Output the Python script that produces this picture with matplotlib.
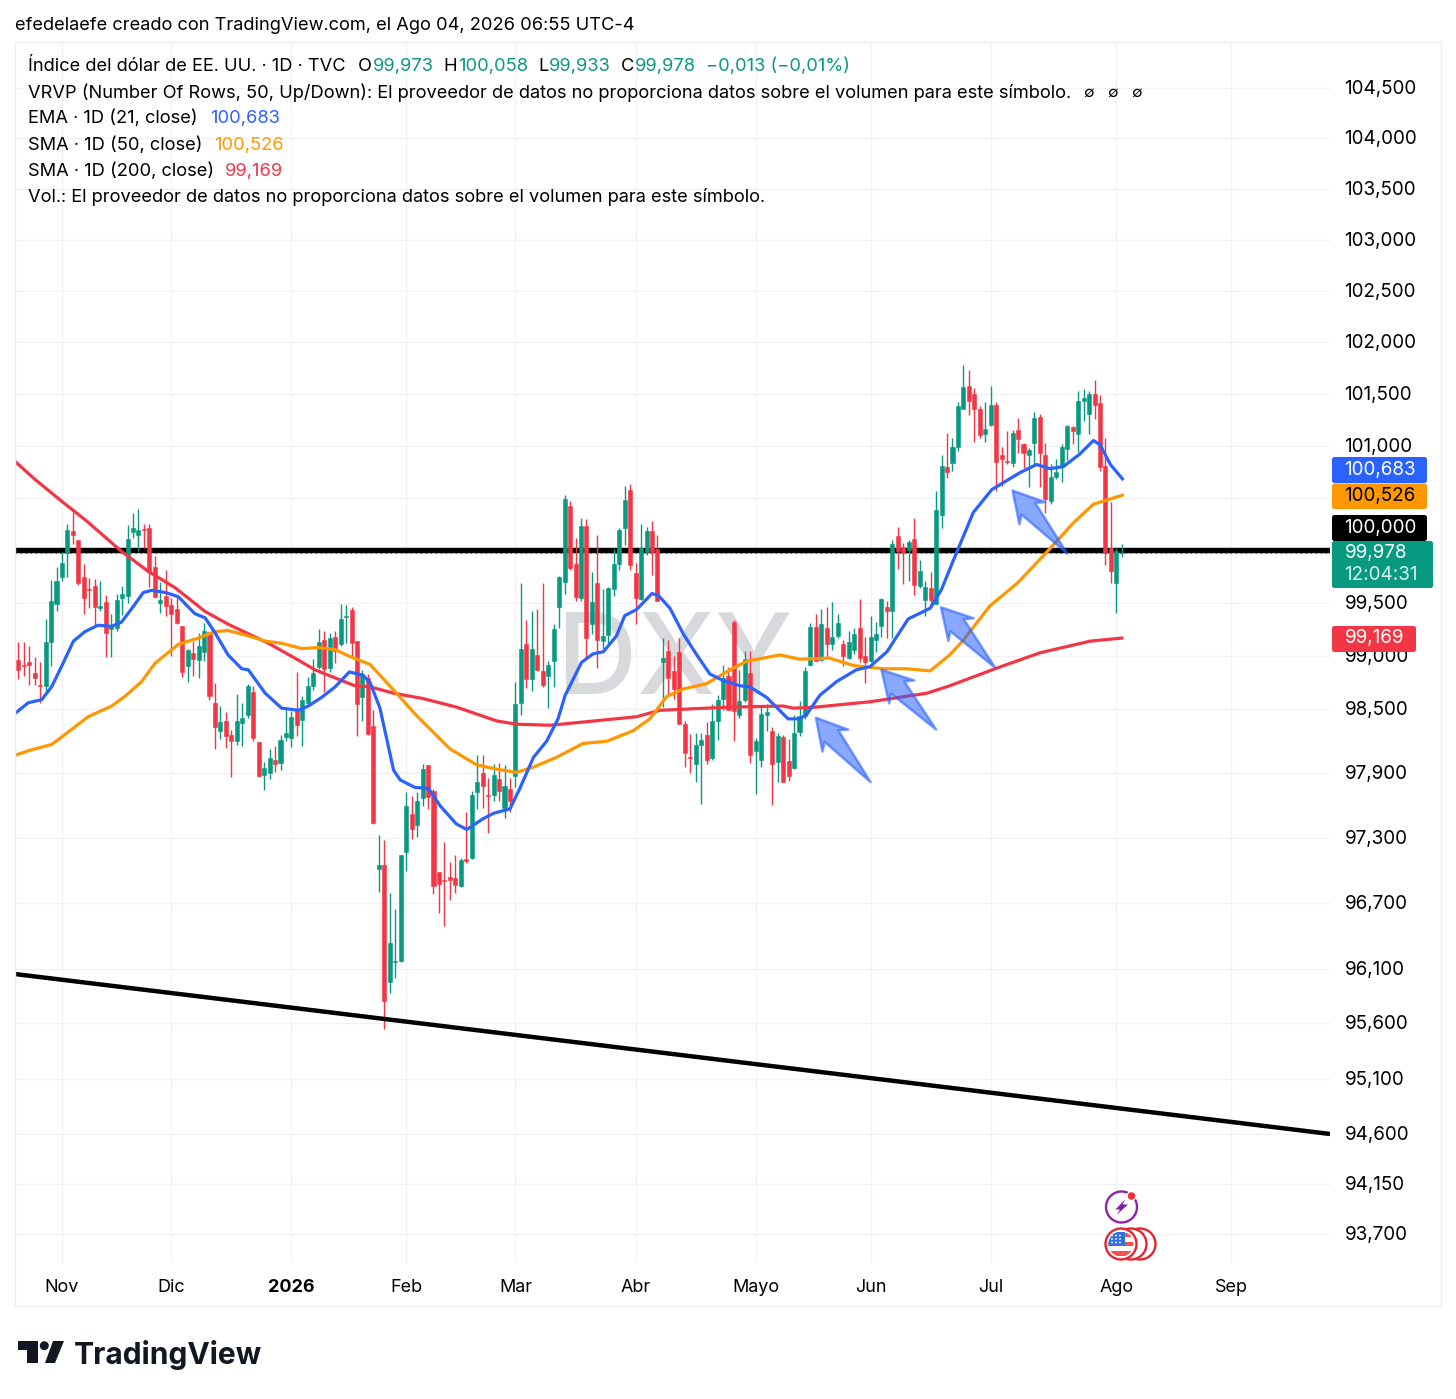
import math
import matplotlib
matplotlib.use("Agg")
import matplotlib.pyplot as plt
from matplotlib.patches import Polygon, Circle, Rectangle, FancyBboxPatch

opens = [
 98.96,98.92,98.94,98.84,98.73,98.72,99.13,99.49,99.75,99.97,
 100.18,100.10,99.75,99.63,99.66,99.45,99.51,99.25,99.26,99.55,
 99.57,100.17,100.15,100.20,100.21,99.84,99.50,99.57,99.48,99.44,
 99.28,98.91,99.03,98.96,99.04,99.23,98.56,98.30,98.39,98.26,
 98.20,98.37,98.45,98.66,98.19,97.89,97.90,98.03,98.00,98.24,
 98.23,98.48,98.40,98.56,98.72,98.90,99.15,98.89,99.18,99.11,
 99.37,99.43,99.14,98.61,98.79,98.34,97.01,97.05,95.98,96.16,
 96.17,97.17,97.52,97.42,97.67,97.98,97.74,96.99,96.91,96.94,
 96.93,96.86,97.11,97.12,97.73,97.90,97.70,97.70,97.85,97.58,
 97.76,97.88,98.56,99.11,98.78,99.01,98.86,98.81,98.95,99.46,
 99.70,100.42,99.87,99.55,100.23,99.30,99.69,99.14,99.20,99.63,
 99.87,100.21,100.58,99.78,99.54,99.98,100.18,100.01,98.94,99.05,
 98.86,99.04,98.36,98.05,97.99,98.17,98.26,98.04,98.39,98.60,
 98.81,99.32,98.45,98.59,98.84,98.11,98.03,98.45,98.30,98.01,
 98.24,98.02,97.95,98.29,98.44,98.92,99.27,98.96,99.26,99.11,
 99.19,99.11,98.98,99.06,99.26,99.00,98.95,99.15,99.28,99.46,
 99.42,100.14,100.03,100.00,100.11,99.66,99.53,99.64,99.49,100.34,
 100.80,100.83,100.99,101.35,101.58,101.50,101.35,101.11,101.20,101.39,
 100.91,100.85,100.83,101.15,101.02,100.91,101.03,101.28,100.91,100.47,
 100.70,100.80,100.97,101.18,101.11,101.43,101.31,101.50,101.41,100.81,
 100.02,99.69,99.973]
closes = [
 98.87,98.91,98.92,98.79,98.72,99.13,99.52,99.71,99.88,100.19,
 100.15,99.69,99.55,99.62,99.46,99.47,99.22,99.28,99.53,99.59,
 100.11,100.21,100.19,100.19,99.79,99.56,99.53,99.47,99.40,99.31,
 98.85,99.06,98.97,99.09,99.24,98.62,98.33,98.38,98.25,98.20,
 98.39,98.42,98.72,98.23,97.88,97.95,98.04,97.99,98.21,98.28,
 98.43,98.35,98.59,98.72,98.84,99.13,98.88,99.17,99.05,99.35,
 99.38,99.12,98.55,98.82,98.27,97.44,97.05,95.80,96.33,96.17,
 97.14,97.60,97.38,97.64,97.94,97.68,96.86,96.88,96.90,96.91,
 96.87,97.10,97.09,97.70,97.82,97.78,97.69,97.89,97.74,97.78,
 97.64,98.55,99.07,98.78,99.07,98.87,98.73,98.92,99.25,99.75,
 100.49,99.83,99.56,100.23,99.17,99.51,99.15,99.19,99.64,99.87,
 100.19,100.48,99.86,99.55,100.02,100.18,99.98,99.52,98.98,98.79,
 98.69,98.36,98.09,98.04,98.17,98.21,98.03,98.39,98.59,98.79,
 98.49,98.48,98.58,98.97,98.07,98.20,98.46,98.47,97.99,98.25,
 97.82,97.88,98.28,98.44,98.86,99.27,98.95,99.30,99.11,99.18,
 99.31,99.00,99.13,99.21,98.98,98.94,99.18,99.21,99.54,99.42,
 100.06,99.99,99.97,100.08,99.67,99.80,99.65,99.53,100.38,100.81,
 100.75,100.99,101.38,101.57,101.43,101.35,101.10,101.16,101.39,100.84,
 100.87,100.84,101.12,101.06,100.93,100.96,101.27,100.93,100.49,100.70,
 100.75,100.99,101.19,101.14,101.43,101.46,101.50,101.39,100.80,99.97,
 99.80,99.99,99.978]
highs = [
 99.13,99.13,99.09,98.99,98.94,99.35,99.72,99.84,99.98,100.25,
 100.37,100.10,99.87,99.74,99.73,99.71,99.58,99.40,99.59,99.66,
 100.24,100.36,100.39,100.25,100.25,99.95,99.70,99.81,99.55,99.56,
 99.28,99.07,99.14,99.22,99.31,99.23,98.75,98.53,98.47,98.31,
 98.64,98.56,98.74,98.72,98.19,98.01,98.13,98.16,98.26,98.49,
 98.48,98.85,98.62,98.80,98.97,99.25,99.24,99.22,99.24,99.49,
 99.48,99.46,99.14,98.87,98.83,98.49,97.33,97.28,96.79,96.65,
 97.14,97.73,97.69,97.73,97.99,97.98,97.76,96.99,97.26,97.08,
 97.14,97.12,97.54,97.74,98.07,98.07,97.86,97.99,98.00,97.98,
 97.86,98.76,99.69,99.34,99.42,99.44,99.69,98.95,99.30,99.76,
 100.53,100.47,100.12,100.31,100.30,99.79,100.15,99.63,99.65,100.01,
 100.21,100.61,100.63,99.88,100.25,100.22,100.28,100.15,99.17,99.15,
 99.00,99.17,98.39,98.27,98.28,98.28,98.38,98.55,98.63,98.92,
 98.90,99.34,98.87,99.05,99.05,98.23,98.52,98.55,98.33,98.28,
 98.26,98.22,98.45,98.58,98.90,99.31,99.40,99.44,99.46,99.51,
 99.40,99.15,99.24,99.26,99.54,99.18,99.38,99.32,99.55,99.52,
 100.10,100.22,100.07,100.10,100.31,99.91,99.71,99.79,100.57,100.91,
 101.12,101.07,101.42,101.78,101.73,101.56,101.38,101.42,101.58,101.42,
 100.99,101.14,101.15,101.27,101.03,100.98,101.32,101.31,101.03,100.82,
 100.87,101.02,101.20,101.19,101.53,101.55,101.53,101.63,101.49,101.07,
 100.46,100.02,100.058]
lows = [
 98.78,98.81,98.73,98.73,98.56,98.65,98.91,99.42,99.71,99.75,
 100.06,99.67,99.40,99.45,99.29,99.42,98.99,98.99,99.24,99.39,
 99.50,100.12,99.99,100.02,99.65,99.55,99.41,99.38,99.00,99.30,
 98.80,98.76,98.81,98.79,98.95,98.59,98.13,98.22,98.14,97.87,
 98.17,98.16,98.42,98.20,97.87,97.75,97.85,97.91,97.93,98.20,
 98.15,98.25,98.16,98.53,98.68,98.88,98.66,98.85,98.93,99.09,
 99.12,99.00,98.25,98.39,98.26,97.43,96.80,95.55,95.88,96.01,
 96.16,97.00,97.29,97.31,97.60,97.57,96.78,96.61,96.49,96.73,
 96.79,96.85,97.07,97.11,97.57,97.58,97.35,97.64,97.64,97.49,
 97.54,97.77,98.45,98.70,98.67,98.86,98.71,98.51,98.71,99.26,
 99.59,99.81,99.52,99.52,98.99,99.21,98.89,99.07,99.11,99.57,
 99.81,100.05,99.81,99.30,99.53,99.96,99.77,99.52,98.52,98.63,
 98.60,98.36,97.96,97.90,97.82,97.62,97.99,98.03,98.21,98.49,
 98.49,98.20,98.42,98.57,98.00,97.71,97.96,98.30,97.61,97.82,
 97.82,97.83,97.94,98.25,98.41,98.91,98.95,98.95,98.97,99.06,
 99.17,98.91,98.97,99.02,98.94,98.75,98.94,99.04,99.18,99.17,
 99.17,99.82,99.68,99.71,99.58,99.64,99.38,99.46,99.49,100.21,
 100.69,100.76,100.95,101.35,101.30,101.04,101.07,101.04,101.19,100.57,
 100.61,100.82,100.80,100.93,100.79,100.60,100.82,100.60,100.36,100.44,
 100.68,100.65,100.86,101.02,100.94,101.24,101.11,101.26,100.76,99.86,
 99.69,99.41,99.933]

sma200_x = [-0.6,3.1,7.9,12.5,18.9,23.8,28.7,34.2,38.4,42.1,45.8,51.3,54.3,61.6,64.4,68.7,74.1,80.2,87.6,91.2,
            97.3,103.4,113.2,117.4,121.7,130.3,140,141.9,146,155.9,166.3,170.5,178.8,187,196.2,202]
sma200_y = [100.85,100.675,100.47,100.28,99.99,99.80,99.645,99.42,99.30,99.21,99.12,98.96,98.87,98.72,98.71,98.65,98.60,98.52,98.39,98.36,
            98.35,98.38,98.43,98.49,98.50,98.52,98.53,98.51,98.52,98.57,98.65,98.72,98.88,99.03,99.14,99.169]
ema21_x = [-0.6,1.8,4.3,6.1,7.9,10.1,12.2,14.6,17.1,18.9,20.8,22.9,24.4,26.9,29.3,32.3,34.2,36,38.4,40.9,42.1,45.2,48.2,51.3,53.1,55.5,58,60.6,63.1,64.4,
           66.2,68.7,69.9,72.6,75.1,77.2,80.2,82.1,85.1,87,90,91.8,94.3,96.7,98.8,100.1,103.1,105.2,107.1,109.5,111,113.2,116,117.2,119.3,121.7,124.2,126.6,129,132.1,133.9,137,140.9,143,144.3,146.7,149.8,153.4,155.9,159,162.9,166.9,169,171.2,174.8,178.2,183.3,186.4,188.8,191.3,194.3,196.8,198,199.9,202.1]
ema21_y = [98.46,98.56,98.59,98.71,98.90,99.14,99.23,99.29,99.28,99.32,99.45,99.60,99.62,99.60,99.56,99.40,99.36,99.22,99.01,98.88,98.87,98.65,98.51,98.49,98.53,98.61,98.71,98.85,98.82,98.75,
           98.51,97.93,97.84,97.77,97.76,97.60,97.43,97.38,97.48,97.53,97.57,97.76,98.05,98.20,98.41,98.63,98.94,99.02,99.04,99.19,99.38,99.44,99.59,99.57,99.45,99.21,99.01,98.83,98.77,98.72,98.71,98.61,98.41,98.41,98.45,98.63,98.76,98.87,98.90,99.04,99.35,99.45,99.63,99.91,100.36,100.58,100.74,100.82,100.78,100.80,100.92,101.05,101.01,100.82,100.683]
sma50_x = [-0.6,2.4,6.1,8.2,12.8,17.1,19.5,22.6,25,29.3,33,36,38.4,42.1,45.2,48.2,51.9,54.9,58,60.5,64.4,68.7,72.9,79,83.9,87.6,91.2,94.3,98.5,103.4,107.7,112.6,115.6,118.7,120,121.7,126,130.3,133.3,139.4,143,148.5,152.9,158.3,162.6,166.9,170.5,173,177.8,182.9,188.2,193.1,196.8,202.1]
sma50_y = [98.07,98.12,98.17,98.25,98.43,98.53,98.62,98.76,98.93,99.11,99.17,99.23,99.24,99.19,99.14,99.12,99.07,99.08,99.06,99.00,98.92,98.68,98.44,98.13,97.98,97.94,97.91,97.96,98.05,98.18,98.20,98.30,98.41,98.62,98.65,98.69,98.74,98.87,98.95,99.01,98.97,98.98,98.91,98.88,98.88,98.86,99.01,99.15,99.47,99.69,99.98,100.26,100.44,100.526]

trend_x = [-0.6, 240.1]
trend_y = [96.05, 94.60]
level_100 = 100.0
last_price = 99.978

arrow_heads = [(146.0,98.42),(158.0,98.87),(168.9,99.46),(182.0,100.57)]
arrow_tails = [(156.0,97.82),(168.0,98.31),(178.8,98.89),(192.0,99.97)]

y_ticks = [104.5,104.0,103.5,103.0,102.5,102.0,101.5,101.0,100.5,99.5,99.0,98.5,97.9,97.3,96.7,96.1,95.6,95.1,94.6,94.15,93.7]
y_labels = ["104,500","104,000","103,500","103,000","102,500","102,000","101,500","101,000",None,"99,500","99,000","98,500","97,900","97,300","96,700","96,100","95,600","95,100","94,600","94,150","93,700"]
grid_y = [104.5,104.0,103.5,103.0,102.5,102.0,101.5,101.0,100.5,99.5,99.0,98.5,97.9,97.3,96.7,96.1,95.6,95.1,94.6,94.15,93.7]
month_pos = [8,28,50,71,91,113,135,156,178,201,222]
month_lab = ["Nov","Dic","2026","Feb","Mar","Abr","Mayo","Jun","Jul","Ago","Sep"]

GREEN="#089981"; RED="#f23645"; BLUE="#2962ff"; ORANGE="#ff9800"; GRID="#f0f1f3"
FS = 13.15
TICK_FS = 13.55
plt.rcParams['font.family'] = ['Inter','DejaVu Sans']

W,H = 1456,1399
fig = plt.figure(figsize=(W/100,H/100),dpi=100,facecolor="white")
L,R,T,B = 15,1330,42,1263
ax = fig.add_axes([L/W,1-B/H,(R-L)/W,(B-T)/H])
ax.set_yscale("log")
ax.set_xlim(-0.6,240.1)
ax.set_ylim(93.446,104.954)
for s in ax.spines.values(): s.set_visible(False)
ax.set_xticks([]); ax.set_yticks([]); ax.minorticks_off()
ax.tick_params(which="both",left=False,bottom=False,labelleft=False,labelbottom=False)
ax.set_facecolor("white")
for g in grid_y: ax.axhline(g,color=GRID,lw=0.9,zorder=0)
ax.axhline(100.0,color=GRID,lw=0.9,zorder=0)
for m in month_pos: ax.axvline(m,color=GRID,lw=0.9,zorder=0)

ax.text((557-L)/(R-L),(B-665)/(B-T),"DXY",transform=ax.transAxes,fontsize=80,color="#d8d9dc",
        ha="left",va="center",zorder=1,fontweight="medium")

ax.plot([-0.6,240.1],[level_100,level_100],color="black",lw=3.9,zorder=2,solid_capstyle="butt")
ax.plot([-0.6,240.1],[last_price,last_price],color=GREEN,lw=0.8,ls=(0,(1.5,3)),zorder=2.1)

xs = list(range(len(opens)))
cols = [GREEN if c>=o else RED for o,c in zip(opens,closes)]
ax.vlines(xs,lows,highs,colors=cols,lw=1.0,zorder=3)
ax.bar(xs,[abs(c-o) for o,c in zip(opens,closes)],bottom=[min(o,c) for o,c in zip(opens,closes)],
       width=0.74,color=cols,edgecolor=cols,linewidth=0.4,zorder=3.1)

ax.plot(sma200_x,sma200_y,color=RED,lw=2.3,zorder=4,solid_joinstyle="round")
ax.plot(sma50_x,sma50_y,color=ORANGE,lw=2.3,zorder=4.1,solid_joinstyle="round")
ax.plot(ema21_x,ema21_y,color=BLUE,lw=2.3,zorder=4.2,solid_joinstyle="round")
ax.plot(trend_x,trend_y,color="black",lw=3.2,zorder=4.3,solid_capstyle="butt")

# overlay in pixel coordinates
ov = fig.add_axes([0,0,1,1],facecolor="none")
ov.set_xlim(0,W); ov.set_ylim(H,0); ov.axis("off")

fig.canvas.draw()
def to_px(i,p):
    x,y = ax.transData.transform((i,p))
    return x, H-y

# frame
ov.add_patch(Rectangle((15,42),1426,1264,fill=False,ec="#eeeff1",lw=1.0))

def txt(x,y,s,color="black",size=FS,**k):
    return ov.text(x,y+1.5,s,color=color,fontsize=size,ha=k.pop("ha","left"),va="center",**k)

txt(15,24,"efedelaefe creado con TradingView.com, el Ago 04, 2026 06:55 UTC-4")
txt(28,65,"Índice del dólar de EE. UU. · 1D · TVC")
for x,s,c in [(358,"O","black"),(373,"99,973",GREEN),(443,"H","black"),(458,"100,058",GREEN),(538,"L","black"),
              (549,"99,933",GREEN),(621,"C","black"),(635,"99,978",GREEN),(706,"−0,013 (−0,01%)",GREEN)]:
    txt(x,65,s,c)
txt(28,91,"VRVP (Number Of Rows, 50, Up/Down): El proveedor de datos no proporciona datos sobre el volumen para este símbolo.")
for x in [1089,1112,1136]:
    txt(x,91,"∅",size=11,ha="center")
txt(28,117,"EMA · 1D (21, close)"); txt(210,117,"100,683",BLUE)
txt(28,144,"SMA · 1D (50, close)"); txt(214,144,"100,526",ORANGE)
txt(28,170,"SMA · 1D (200, close)"); txt(225,170,"99,169",RED)
txt(28,196,"Vol.: El proveedor de datos no proporciona datos sobre el volumen para este símbolo.")

for t,l in zip(y_ticks,y_labels):
    if l is None: continue
    _,py = to_px(0,t)
    txt(1344.5,py-0.5,l,size=TICK_FS)

for m,l in zip(month_pos,month_lab):
    px,_ = to_px(m,100)
    txt(px,1286,l,ha="center",size=FS-0.2,fontweight="bold" if l=="2026" else "normal")

def tag(x0,y0,x1,y1,color):
    ov.add_patch(FancyBboxPatch((x0+2,y0+2),x1-x0-4,y1-y0-4,boxstyle="round,pad=2,rounding_size=2.5",fc=color,ec="none",zorder=6))
tag(1332,626,1416,652,RED);    txt(1344.5,637,"99,169","white",size=TICK_FS,zorder=7)
tag(1332,457,1427,483,BLUE);   txt(1344.5,468,"100,683","white",size=TICK_FS,zorder=7)
tag(1332,483.5,1427,509,ORANGE); txt(1344.5,494.5,"100,526","black",size=TICK_FS,zorder=7)
tag(1332,515,1427,541,"black"); txt(1344.5,526,"100,000","white",size=TICK_FS,zorder=7)
tag(1332,541,1433,588,GREEN);  txt(1344.5,551.5,"99,978","white",size=TICK_FS,zorder=7); txt(1344.5,573,"12:04:31","#d5f2ec",size=TICK_FS,zorder=7)

# hand-drawn style arrows
for (hi,hp),(ti,tp) in zip(arrow_heads,arrow_tails):
    hx,hy = to_px(hi,hp); tx,ty = to_px(ti,tp)
    d = math.hypot(tx-hx,ty-hy); ux,uy = (tx-hx)/d,(ty-hy)/d; vx,vy = uy,-ux
    pt = lambda a,b:(hx+ux*a+vx*b,hy+uy*a+vy*b)
    ov.add_patch(Polygon([(hx,hy),pt(30,17),pt(24,9),(tx,ty),pt(24,-9),pt(30,-17)],closed=True,
                 fc=(0.16,0.38,1,0.55),ec=(0.16,0.38,1,0.6),lw=1.8,joinstyle="round",zorder=5))

# event icons
PUR="#8e24aa"
ov.add_patch(Circle((1121.5,1207),15.5,fc="white",ec=PUR,lw=1.7,zorder=6))
ov.add_patch(Polygon([(1125.5,1199),(1115.5,1209.5),(1120,1209.5),(1116.5,1215),(1128,1204.5),(1122.5,1204.5)],fc="#7b1fa2",ec="none",zorder=7))
ov.add_patch(Circle((1131.5,1196),4.4,fc="#f0303a",ec="white",lw=0.9,zorder=7))
for cx in (1140,1131,1121):
    ov.add_patch(Circle((cx,1244),15.5,fc="white",ec="#e5252f",lw=1.7,zorder=6))
clip = Circle((1121,1244),12.5,transform=ov.transData)
for sy,sh in [(1233,3.5),(1241.5,4.5),(1250.5,5)]:
    r_ = Rectangle((1108,sy),26,sh,fc="#ef5350",ec="none",zorder=7)
    ov.add_patch(r_); r_.set_clip_path(clip)
c_ = Rectangle((1108,1232),16.5,14,fc="#2f6fe0",ec="none",zorder=7.1)
ov.add_patch(c_); c_.set_clip_path(clip)
for dx in (1112,1116,1120):
    for dy in (1235.5,1239,1242.5):
        ov.add_patch(Circle((dx,dy),0.9,fc="white",ec="none",zorder=7.2))

# TradingView logo
ov.add_patch(Polygon([(18,1341),(38,1341),(38,1363),(27,1363),(27,1350),(18,1350)],fc="#131722",ec="none"))
ov.add_patch(Circle((44.3,1345.7),4.5,fc="#131722",ec="none"))
ov.add_patch(Polygon([(53,1341),(64,1341),(55,1363),(45,1363)],fc="#131722",ec="none"))
txt(74,1353,"TradingView","#131722",size=21.6,fontweight="bold")

fig.savefig("out.png",dpi=100,facecolor="white")
